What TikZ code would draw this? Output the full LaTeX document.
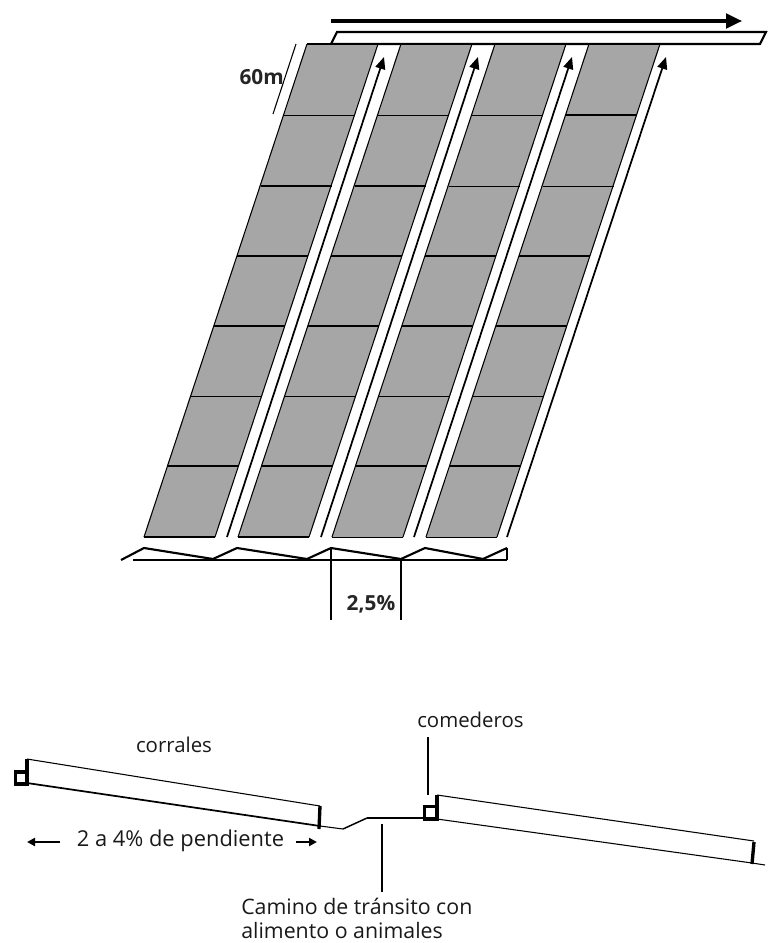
\documentclass[tikz,border=0pt]{standalone}
\usepackage{fontspec}
\setmainfont{Open Sans}
\usetikzlibrary{arrows.meta}
\definecolor{pen}{HTML}{A6A6A6}
\tikzset{
  x=0.75pt,y=-0.75pt,
  lbl/.style={inner sep=0pt,text=black!90},
  blbl/.style={font=\fontsize{15.6pt}{18pt}\selectfont\bfseries,inner sep=0pt,text=black!85},
  row/.style={line width=0.7pt},
  rowt/.style={line width=1.5pt},
  lane/.style={line width=1.3pt,-{Triangle[length=9pt,width=7.5pt]}},
  thin/.style={line width=0.8pt},
  thick2/.style={line width=1.6pt},
  thick3/.style={line width=2.5pt}
}
\newcommand{\pencol}[2]{%
  \fill[pen] (#1,44) -- (#1+71,44) -- (#2+71,537) -- (#2,537) -- cycle;
  \draw[thin] (#1,44) -- (#2,537) (#1+71,44) -- (#2+71,537);
}
\begin{document}
\begin{tikzpicture}
\useasboundingbox (0,0) rectangle (768,943);
% road
\draw[thick2,fill=white] (337,32) -- (766,32) -- (760,44) -- (331,44) -- cycle;
\draw[line width=2.4pt,-{Triangle[length=12pt,width=11pt]}] (331,21) -- (742,21);
% pens
\pencol{307}{144}
\pencol{401}{238}
\pencol{495}{332}
\pencol{589}{426}
\draw[rowt] (307,44)--(378,44) (401,44)--(472,44) (495,44)--(566,44) (589,44)--(660,44);
% row separators
\draw[row]  (284,115)--(355,115) (378,115)--(449,115) (472,115)--(543,115);
\draw[rowt] (566,115)--(637,115);
\draw[rowt] (261,186)--(332,186) (355,186)--(426,186);
\draw[row]  (449,186)--(520,186) (543,186)--(614,186);
\draw[rowt] (237,256)--(308,256) (331,256)--(402,256) (425,256)--(496,256) (519,256)--(590,256);
\draw[rowt] (214,326)--(285,326) (308,326)--(379,326) (402,326)--(473,326) (496,326)--(567,326);
\draw[row]  (191,396)--(262,396) (285,396)--(356,396) (379,396)--(450,396) (472,396)--(543,396);
\draw[rowt] (167,466)--(238,466) (261,466)--(332,466) (355,466)--(426,466) (449,466)--(520,466);
\draw[rowt] (144,537)--(215,537) (238,537)--(309,537);
\draw[row] (332,537)--(403,537) (426,537)--(497,537);
% lane arrows
\draw[lane] (227,537) -- (384,57);
\draw[lane] (321,537) -- (478,57);
\draw[lane] (414,537) -- (572,57);
\draw[lane] (507,537) -- (666,57);
% 60 m
\draw[thin] (296,44) -- (273,114);
\node[blbl,anchor=east] (sixty) at (284,77) {60m};
% profile
\draw[thick2] (133,560) -- (507,560);
\draw[thick2] (121,560) -- (144,548) -- (213,559) -- (237,548) -- (307,559) -- (331,548) -- (401,559) -- (425,548) -- (483,559) -- (507,548);
\draw[thin] (507,548) -- (507,560);
\coordinate (pa) at (331,548);
\coordinate (pb) at (401,559);
\draw[line width=1pt] (pa) -- ++(0,72);
\draw[line width=1pt] (pb) -- ++(0,61);
\node[blbl] (pct) at (371,604) {2,5\%};
% left section
\draw[thin] (27,759) -- (320,806);
\draw[line width=1.3pt] (27,783) -- (320,826);
\draw[thin] (320,826) -- (343,829);
\draw[line width=1.1pt] (343,829) -- (367,818);
\draw[thick2] (367,818) -- (424,818);
\draw[thick3] (27,759) -- (27,784);
\draw[thick3] (15.5,772) rectangle (27,784);
\draw[thick3] (320,806) -- (319,829);
% right section
\draw[thin] (437,795) -- (754,841);
\draw[thin] (437,819) -- (752,863) -- (765,865);
\draw[thick3] (437,795) -- (437,819);
\draw[thick3] (424.5,806.5) rectangle (437,819);
\draw[thick3] (754,842) -- (752,864);
% labels
\node[lbl,font=\fontsize{15.3pt}{18pt}\selectfont,anchor=base] (corr) at (174,752) {corrales};
\node[lbl,font=\fontsize{15.3pt}{18pt}\selectfont,anchor=base west] (come) at (417,727) {comederos};
\node[lbl,font=\fontsize{16.4pt}{18pt}\selectfont,anchor=base] (pend) at (180.5,846) {2 a 4\% de pendiente};
\node[lbl,font=\fontsize{16pt}{18pt}\selectfont,anchor=north west,align=left] (cam) at (241,898) {Camino de tránsito con\\alimento o animales};
\coordinate (ca) at (428,737);
\coordinate (cb) at (428,795);
\coordinate (da) at (382,824);
\coordinate (db) at (382,892);
\draw[line width=1.1pt] (ca) -- (cb);
\draw[line width=1.1pt] (da) -- (db);
\coordinate (la) at (60,842);
\coordinate (lb) at (27,842);
\coordinate (ra) at (296,842);
\coordinate (rb) at (317,842);
\draw[line width=1.6pt,-{Triangle[length=6pt,width=6pt]}] (la) -- (lb);
\draw[line width=1.6pt,-{Triangle[length=6pt,width=6pt]}] (ra) -- (rb);
\end{tikzpicture}
\end{document}
